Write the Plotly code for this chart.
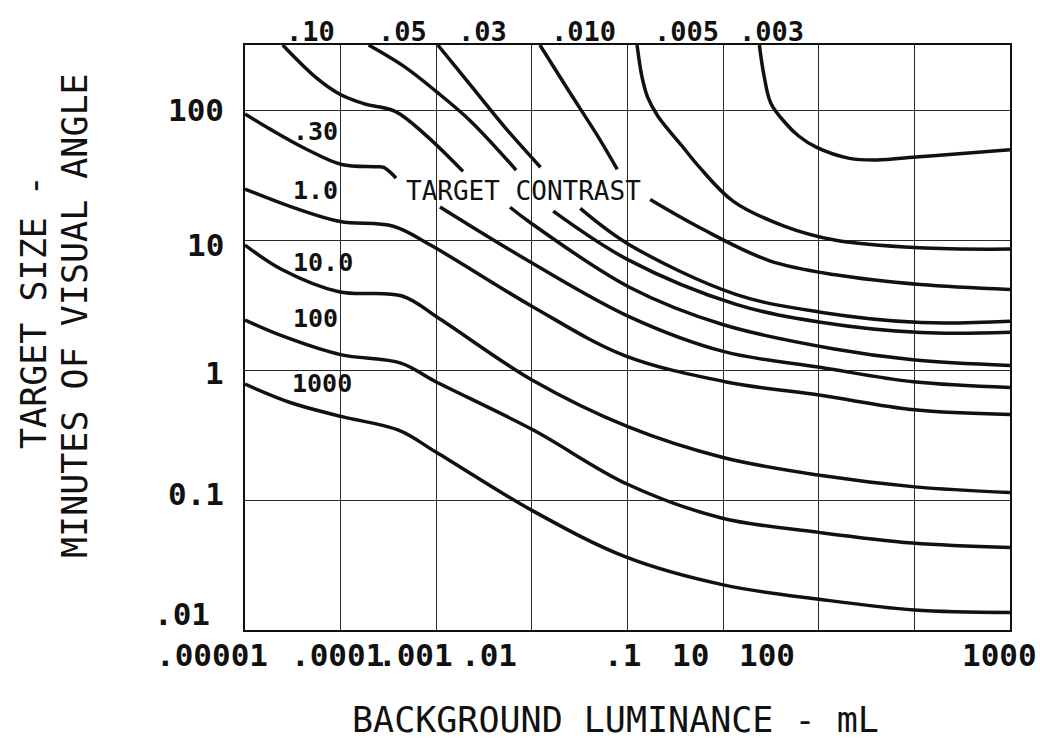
import numpy as np
import plotly.graph_objects as go

# Visibility threshold curves: target size needed to see a target of a given
# contrast against a background of a given luminance.
# Values are log10(background luminance, mL) and log10(target size, minutes).
# None breaks a curve where it passes under the "TARGET CONTRAST" caption.

c003_lum = [0.379, 0.429, 0.50, 0.651, 0.79, 0.973, 1.321, 1.6, 2.05, 2.5, 3.0]
c003_size = [2.50, 2.258, 2.05, 1.90, 1.80, 1.714, 1.628, 1.615, 1.64, 1.665, 1.695]

c005_lum = [-0.90, -0.849, -0.792, -0.682, -0.432, -0.248, 0.107, 0.638, 1.165, 2.047, 3.0]
c005_size = [2.50, 2.256, 2.103, 1.952, 1.725, 1.56, 1.297, 1.107, 1.0, 0.94, 0.93]

c010_lum = [-1.916, -1.63, -1.30, -1.107, None, -0.763, -0.232, 0.48, 1.175, 2.06, 3.0]
c010_size = [2.50, 2.165, 1.786, 1.543, None, 1.311, 1.09, 0.842, 0.732, 0.657, 0.62]

c03_lum = [-2.984, -2.65, -2.282, -1.91, None, -1.494, -0.99, 0.132, 1.017, 2.07, 3.0]
c03_size = [2.50, 2.199, 1.867, 1.56, None, 1.243, 0.968, 0.582, 0.445, 0.365, 0.375]

c05_lum = [-3.708, -3.345, -2.993, -2.64, -2.165, None, -1.777, -0.987, 0.135, 1.02, 2.07, 3.0]
c05_size = [2.50, 2.339, 2.138, 1.914, 1.538, None, 1.222, 0.845, 0.505, 0.368, 0.288, 0.29]

c10_lum = [-4.606, -4.25, -4.003, -3.75, -3.43, -3.107, -2.72, None,
           -2.228, -2.015, -0.98, 0.004, 1.163, 1.983, 3.0]
c10_size = [2.50, 2.245, 2.119, 2.047, 1.99, 1.805, 1.528, None,
            1.252, 1.133, 0.637, 0.348, 0.162, 0.079, 0.035]

c30_lum = [-5.0, -4.733, -4.372, -3.99, -3.632, -3.549, -3.42, None,
           -2.961, -2.003, -0.973, 0.011, 1.012, 1.99, 3.0]
c30_size = [1.97, 1.851, 1.704, 1.581, 1.564, 1.558, 1.476, None,
            1.254, 0.825, 0.407, 0.141, 0.021, -0.091, -0.134]

c1_lum = [-5.0, -4.46, -4.005, -3.45, -3.056, -1.992, -1.036, 0.02, 1.019, 1.997, 3.0]
c1_size = [1.392, 1.241, 1.142, 1.106, 0.959, 0.487, 0.113, -0.09, -0.195, -0.306, -0.342]

c10x_lum = [-5.0, -4.62, -4.018, -3.357, -2.962, -2.003, -0.984, 0.009, 1.01, 2.007, 3.0]
c10x_size = [0.961, 0.775, 0.602, 0.569, 0.392, -0.075, -0.44, -0.675, -0.81, -0.899, -0.942]

c100_lum = [-5.0, -4.603, -4.001, -3.37, -3.019, -1.99, -1.0, -0.017, 1.004, 1.981, 3.0]
c100_size = [0.384, 0.26, 0.118, 0.053, -0.085, -0.46, -0.879, -1.138, -1.249, -1.331, -1.365]

c1000_lum = [-5.0, -4.512, -3.984, -3.394, -3.0, -2.009, -1.012, 0.002, 1.022, 2.0, 3.0]
c1000_size = [-0.109, -0.254, -0.359, -0.463, -0.633, -1.076, -1.44, -1.653, -1.765, -1.846, -1.865]

curves = [
    (".003", c003_lum, c003_size), (".005", c005_lum, c005_size),
    (".010", c010_lum, c010_size), (".03", c03_lum, c03_size),
    (".05", c05_lum, c05_size), (".10", c10_lum, c10_size),
    (".30", c30_lum, c30_size), ("1.0", c1_lum, c1_size),
    ("10.0", c10x_lum, c10x_size), ("100", c100_lum, c100_size),
    ("1000", c1000_lum, c1000_size),
]

# Contrast labels along the top edge (placed over the curve they name)
top_labels = [".10", ".05", ".03", ".010", ".005", ".003"]
top_label_lum = [-4.319, -3.356, -2.518, -1.459, -0.380, 0.511]

# Contrast labels on the left side of the field
side_labels = [".30", "1.0", "10.0", "100", "1000"]
side_label_lum = [-4.261, -4.266, -4.183, -4.262, -4.192]
side_label_size = [1.837, 1.383, 0.830, 0.398, -0.102]

# Axis tick labels as printed by the plotter
x_tick_text = [".00001", ".0001", ".001", ".01", ".1", "10", "100", "1000"]
x_tick_px = [212, 337, 415, 489, 622, 690, 767, 999]
y_tick_text = ["100", "10", "1", "0.1", ".01"]
y_tick_px = [110, 245, 373, 494, 614]
y_tick_right = [226, 226, 226, 226, 212]

W, H = 1040, 742
L, R, T, B = 245, 1010, 45, 630

def paper_x(px):
    return (px - L) / (R - L)

def paper_y(py):
    return (B - py) / (B - T)

MONO = "DejaVu Sans Mono"
INK = "#111111"

fig = go.Figure()
for name, lum, size in curves:
    x = 10 ** np.array(lum, dtype=float)
    y = 10 ** np.array(size, dtype=float)
    fig.add_trace(go.Scatter(
        x=x, y=y, mode="lines", name=name, connectgaps=False,
        line=dict(color=INK, width=3.5, shape="spline", smoothing=1.0),
        hoverinfo="skip", showlegend=False,
    ))

axis_style = dict(
    type="log", dtick=1, showgrid=True, gridcolor="#2a2a2a", gridwidth=1.3,
    showline=True, mirror=True, linecolor=INK, linewidth=1.6,
    ticks="", showticklabels=False, zeroline=False,
)

fig.update_layout(
    width=W, height=H,
    margin=dict(l=L, r=W - R, t=T, b=H - B),
    paper_bgcolor="white", plot_bgcolor="white",
    xaxis=dict(range=[-5, 3], **axis_style),
    yaxis=dict(range=[-2, 2.5], **axis_style),
    showlegend=False,
)

ann = []
for txt, lx in zip(top_labels, top_label_lum):
    ann.append(dict(x=lx, y=paper_y(31), xref="x", yref="paper", text=txt,
                    showarrow=False, xanchor="center", yanchor="middle",
                    font=dict(family=MONO, size=27, color=INK, weight="bold")))

for txt, lx, ly in zip(side_labels, side_label_lum, side_label_size):
    ann.append(dict(x=lx, y=ly, xref="x", yref="y", text=txt,
                    showarrow=False, xanchor="center", yanchor="middle",
                    font=dict(family=MONO, size=25, color=INK, weight="bold")))

ann.append(dict(x=-3.333, y=1.378, xref="x", yref="y", text="TARGET CONTRAST",
                showarrow=False, xanchor="left", yanchor="middle",
                font=dict(family=MONO, size=26, color=INK)))

for txt, px in zip(x_tick_text, x_tick_px):
    ann.append(dict(x=paper_x(px), y=paper_y(655), xref="paper", yref="paper",
                    text=txt, showarrow=False, xanchor="center", yanchor="middle",
                    font=dict(family=MONO, size=31, color=INK, weight="bold")))

for txt, py, pr in zip(y_tick_text, y_tick_px, y_tick_right):
    ann.append(dict(x=paper_x(pr), y=paper_y(py), xref="paper", yref="paper",
                    text=txt, showarrow=False, xanchor="right", yanchor="middle",
                    font=dict(family=MONO, size=31, color=INK, weight="bold")))

ann.append(dict(x=paper_x(615), y=paper_y(720), xref="paper", yref="paper",
                text="BACKGROUND LUMINANCE - mL", showarrow=False,
                xanchor="center", yanchor="middle",
                font=dict(family=MONO, size=35, color=INK)))
ann.append(dict(x=paper_x(34), y=paper_y(312), xref="paper", yref="paper",
                text="TARGET SIZE -", textangle=-90, showarrow=False,
                xanchor="center", yanchor="middle",
                font=dict(family=MONO, size=35, color=INK)))
ann.append(dict(x=paper_x(75), y=paper_y(316), xref="paper", yref="paper",
                text="MINUTES OF VISUAL ANGLE", textangle=-90, showarrow=False,
                xanchor="center", yanchor="middle",
                font=dict(family=MONO, size=35, color=INK)))

fig.update_layout(annotations=ann)
fig.write_html("out.html")
